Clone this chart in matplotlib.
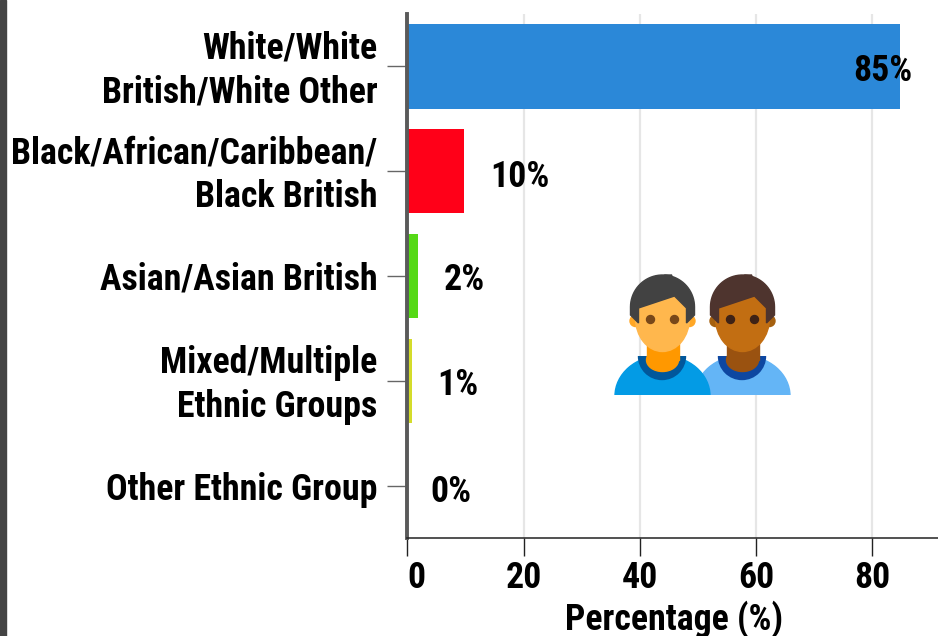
import numpy as np
import matplotlib
matplotlib.use("Agg")
import matplotlib.pyplot as plt
from matplotlib.patches import Ellipse, Polygon, Rectangle, Circle
from matplotlib.transforms import ScaledTranslation

FONT = "Roboto Condensed"

categories = ["White/White\nBritish/White Other", "Black/African/Caribbean/\nBlack British",
              "Asian/Asian British", "Mixed/Multiple\nEthnic Groups", "Other Ethnic Group"]
values = [84.8, 9.8, 1.9, 0.8, 0]
labels = ["85%", "10%", "2%", "1%", "0%"]
colors = ["#2b88d8", "#ff0018", "#55d916", "#d4dc2a", "#999999"]
xticks = [0, 20, 40, 60, 80]
label_pos = [76.7, 14.2, 6.3, 5.1, 4.0]
label_dy = [0.04, 0.06, 0.04, 0.04, 0.06]

W, H = 938, 636
fig = plt.figure(figsize=(W/100, H/100), dpi=100, facecolor="white")
L, R, T, B = 407.3, 938, 14, 538
ax = fig.add_axes([L/W, 1-B/H, (R-L)/W, (B-T)/H])
ax.set_xlim(0, (R-L)/5.81)
ax.set_ylim(4.5, -0.5)
ax.barh(range(5), values, height=0.805, color=colors, zorder=2)
ax.set_xticks(xticks)
ax.set_yticks(range(5))
ax.set_yticklabels(categories, fontsize=25.85, fontweight="bold", family=FONT, linespacing=1.27, ha="right")
ax.set_xticklabels(xticks, fontsize=25.85, fontweight="bold", family=FONT)
ax.get_xticklabels()[0].set_ha("left")
ax.grid(axis="x", color="#e6e6e6", lw=1.6, zorder=0)
ax.tick_params(axis="y", length=14.5, width=1, color="#666666", pad=7)
ax.tick_params(axis="x", length=13, width=1, color="#222222", pad=3)
for lab in ax.get_yticklabels():
    if "\n" in lab.get_text():
        lab.set_transform(lab.get_transform() + ScaledTranslation(0, 3.5/100, fig.dpi_scale_trans))
for s in ("top", "right"):
    ax.spines[s].set_visible(False)
ax.spines["left"].set_linewidth(2.8)
ax.spines["left"].set_color("#5a5a5a")
ax.spines["bottom"].set_linewidth(1.1)
ax.spines["bottom"].set_color("#222222")
ax.set_xlabel("Percentage (%)", fontsize=25.85, fontweight="bold", family=FONT)
ax.xaxis.set_label_coords(0.503, -(600-538)/524)

for i, (p, t) in enumerate(zip(label_pos, labels)):
    ax.text(p, i + label_dy[i], t, fontsize=25.85, fontweight="bold", family=FONT, va="center", ha="left", color="black", zorder=4)

ov = fig.add_axes([0, 0, 1, 1], facecolor="none")
ov.set_xlim(0, W); ov.set_ylim(H, 0); ov.axis("off")
ov.add_patch(Rectangle((0, 0), 5.5, H, color="#444444"))

def person(cx, body, collar, neck, face, hair, ear, eye, z):
    clip = Rectangle((cx-60, 340), 120, 55, transform=ov.transData)
    e = Ellipse((cx, 396), 95, 81, color=body, zorder=z); ov.add_patch(e); e.set_clip_path(clip)
    clip2 = Rectangle((cx-60, 356), 120, 40, transform=ov.transData)
    c = Ellipse((cx-0.5, 356), 47, 47, color=collar, zorder=z+.1); ov.add_patch(c); c.set_clip_path(clip2)
    ov.add_patch(Rectangle((cx-16, 340), 32, 20, color=neck, zorder=z+.2))
    ov.add_patch(Ellipse((cx, 360), 32, 23, color=neck, zorder=z+.2))
    ov.add_patch(Circle((cx-27, 321), 5.5, color=ear, zorder=z+.2))
    ov.add_patch(Circle((cx+27, 321), 5.5, color=ear, zorder=z+.2))
    ov.add_patch(Ellipse((cx, 318), 54, 67, color=face, zorder=z+.3))
    th = np.linspace(np.pi, 2*np.pi, 40)
    arc = [(cx + 32*np.cos(t), 307 + 32*np.sin(t)) for t in th]
    low = [(cx+32, 315), (cx+24, 323), (cx+24, 308), (cx+12, 296), (cx-24, 308), (cx-24, 323), (cx-32, 315)]
    ov.add_patch(Polygon(arc + low, color=hair, zorder=z+.4))
    ov.add_patch(Polygon([(cx+2, 275), (cx+9, 275), (cx+12, 283), (cx+4, 283)], color=hair, zorder=z+.4))
    ov.add_patch(Circle((cx-12, 319.5), 4, color=eye, zorder=z+.5))
    ov.add_patch(Circle((cx+12, 319.5), 4, color=eye, zorder=z+.5))

person(742.5, "#64b5f6", "#0d47a1", "#9a5210", "#c26e12", "#4e342e", "#a5600f", "#3e2216", 10)
person(662.5, "#039be5", "#01579b", "#ff9800", "#ffb74d", "#424242", "#ffa726", "#784719", 20)

fig.savefig("out.png", dpi=100)
